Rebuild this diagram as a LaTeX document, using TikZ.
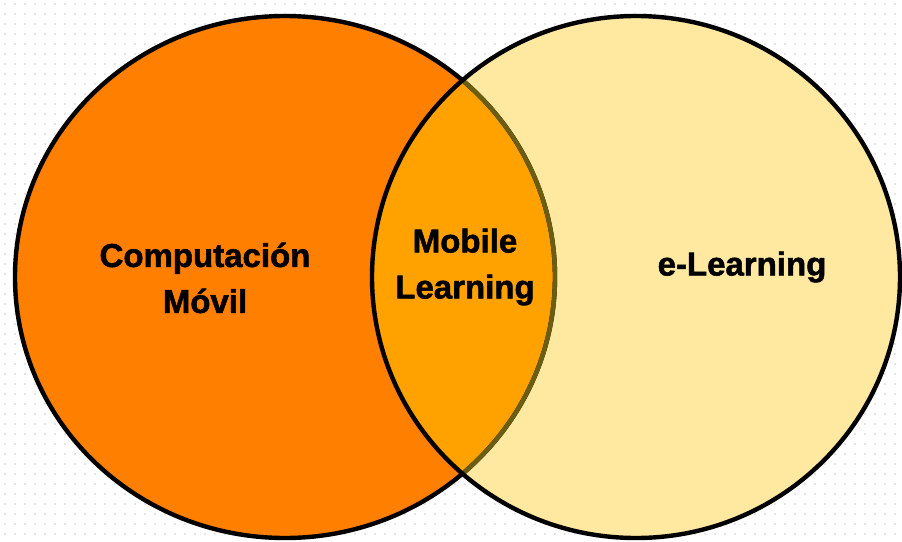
\documentclass[tikz,border=0pt]{standalone}
\usepackage{fontspec}
\setmainfont{Liberation Sans}
\newfontfamily\heavyfont{Liberation Sans Bold}[FakeBold=1.6]
\begin{document}
\definecolor{dotgray}{HTML}{CCCCCC}
\definecolor{orangeset}{HTML}{FF8000}
\definecolor{yellowset}{HTML}{FFE8A0}
\definecolor{overlapset}{HTML}{FFA200}
\definecolor{hiddenedge}{HTML}{6B5E10}
\begin{tikzpicture}[x=1pt,y=-1pt,
  setedge/.style={line width=4.4pt},
  setlabel/.style={font=\fontsize{33}{46}\selectfont\heavyfont, align=center, inner sep=0pt}]
\useasboundingbox (0,0) rectangle (902,541);
\fill[white] (0,0) rectangle (902,541);
% dotted paper background
\foreach \i in {0,...,89}{
  \foreach \j in {0,...,53}{
    \fill[dotgray] (\i*10+5,\j*10+4) circle (0.8);
  }
}
% the two sets
\coordinate (cl) at (285,277);
\coordinate (cr) at (636,277);
\fill[orangeset] (cl) ellipse [x radius=270, y radius=261];
\fill[yellowset] (cr) ellipse [x radius=264, y radius=261];
\begin{scope}
  \clip (cl) ellipse [x radius=270, y radius=261];
  \fill[overlapset] (cr) ellipse [x radius=264, y radius=261];
\end{scope}
\draw[setedge] (cl) ellipse [x radius=270, y radius=261];
\begin{scope}
  \clip (cr) ellipse [x radius=264, y radius=261];
  \draw[setedge, hiddenedge] (cl) ellipse [x radius=270, y radius=261];
\end{scope}
\draw[setedge] (cr) ellipse [x radius=264, y radius=261];
% labels
\node[setlabel] (comp) at (205,278) {Computación\\Móvil};
\node[setlabel] (mobile) at (465,267) {Mobile\\Learning};
\node[setlabel] (elearn) at (742,267) {e-Learning};
\end{tikzpicture}
\end{document}
